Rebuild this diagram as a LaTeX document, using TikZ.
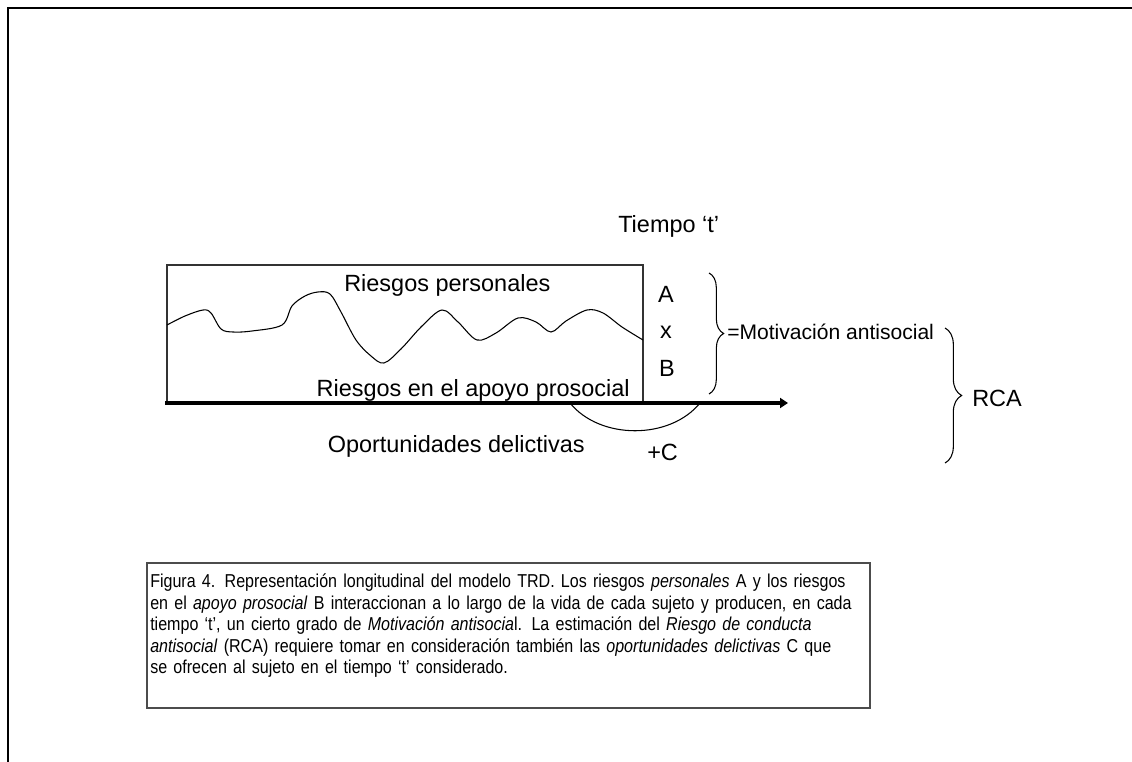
\documentclass[tikz,border=0pt]{standalone}
\usepackage{fontspec}
\setmainfont{Liberation Sans}
\newfontfamily\capfont[FakeStretch=0.86]{Liberation Sans}
\usetikzlibrary{arrows.meta,decorations.pathreplacing,calc}
\tikzset{
  lbl/.style={font=\fontsize{17.6}{20}\selectfont,inner sep=0pt},      % diagram labels
  smalllbl/.style={font=\fontsize{15.8}{18}\selectfont,inner sep=0pt},
  captxt/.style={font=\capfont\fontsize{14}{16.2}\selectfont,inner sep=0pt,
                 align=left,text width=560pt,anchor=north west},
  timeaxis/.style={line width=3pt,-{Triangle[length=6pt,width=7.5pt]}},
  brc/.style={decorate,decoration={brace,amplitude=#1},line width=0.8pt},
  pageframe/.style={line width=1.4pt},
  boxline/.style={black!80,line width=0.9pt},
  capframe/.style={black!70,line width=0.8pt},
  wave/.style={line width=0.8pt},
}

\begin{document}
\begin{tikzpicture}[x=0.75pt,y=-0.75pt]
  \useasboundingbox (0,0) rectangle (1132,762);
  \draw[pageframe] (8,762) |- (1132,8);

  % risk box and curve
  \draw[boxline] (167,403) |- (643,265) -- (643,403);
  \draw[wave] plot[smooth,tension=0.55] coordinates {
    (167,325) (185,316) (203,310) (211,313) (221,329) (233,332) (252,331)
    (282,325) (292,306) (305,296) (318,292) (330,294) (341,312) (356,340)
    (371,356) (384,363) (401,349) (422,326) (442,310) (458,322) (477,340)
    (496,333) (518,318) (536,322) (551,332) (566,321) (587,310) (603,313)
    (622,327) (643,340)};
  \node[lbl,anchor=base west] (rpers) at (344,292) {Riesgos personales};
  \node[lbl,anchor=base east] (rapoyo) at (630,397) {Riesgos en el apoyo prosocial};
  \node[lbl,anchor=base west] (tiempo) at (618,233) {Tiempo ‘t’};

  % A x B
  \node[lbl,anchor=base] (fa) at (666,303) {A};
  \node[lbl,anchor=base] (fx) at (666,339) {x};
  \node[lbl,anchor=base] (fb) at (667,377) {B};
  \coordinate (b1t) at (709,273);
  \coordinate (b1b) at (709,394);
  \draw[brc=11pt] (b1t) -- (b1b);
  \node[smalllbl,anchor=base west] (motiv) at (727,340) {=Motivación antisocial};

  % RCA
  \coordinate (b2t) at (945,328);
  \coordinate (b2b) at (945,463);
  \draw[brc=12.5pt] (b2t) -- (b2b);
  \node[lbl,anchor=base west] (rca) at (972,407) {RCA};

  % time axis and opportunities
  \coordinate (ax0) at (165,403);
  \coordinate (ax1) at (788,403);
  \draw[timeaxis] (ax0) -- (ax1);
  \coordinate (cL) at (570,403);
  \coordinate (cR) at (700,403);
  \draw[wave] (cL) .. controls ($(cL)+(30,37)$) and ($(cR)+(-30,37)$) .. (cR);
  \node[lbl,anchor=base east] (oport) at (585,453) {Oportunidades delictivas};
  \node[lbl,anchor=base west] (plusc) at (647,461) {+C};

  % caption
  \draw[capframe] (147,563) rectangle (870,708);
  \node[captxt] (cap) at (150,573.5) {Figura 4. Representación longitudinal del modelo TRD. Los riesgos \textit{personales} A y los riesgos\\
    en el \textit{apoyo prosocial} B interaccionan a lo largo de la vida de cada sujeto y producen, en cada\\
    tiempo ‘t’, un cierto grado de \textit{Motivación antisocia}l. La estimación del \textit{Riesgo de conducta}\\
    \textit{antisocial} (RCA) requiere tomar en consideración también las \textit{oportunidades delictivas} C que\\
    se ofrecen al sujeto en el tiempo ‘t’ considerado.};
\end{tikzpicture}
\end{document}
